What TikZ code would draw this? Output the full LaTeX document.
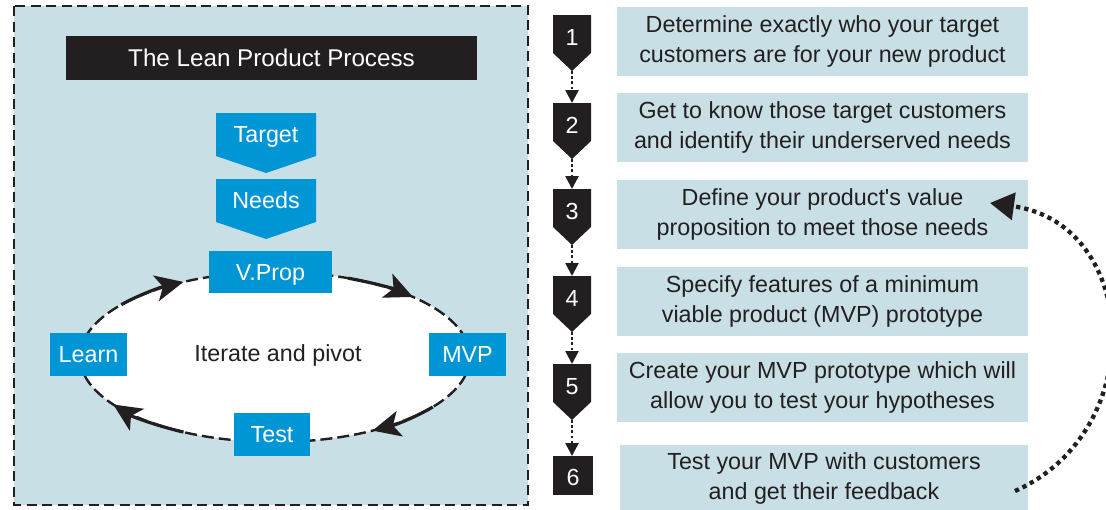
\documentclass[tikz,border=0pt]{standalone}
\usepackage{fontspec}
\setmainfont{Liberation Sans}
\usetikzlibrary{arrows.meta,shapes.geometric}
\definecolor{panelfill}{HTML}{C8DFE5}
\definecolor{leanblue}{HTML}{0096D6}
\definecolor{ink}{HTML}{231F20}

\tikzset{
  txt/.style={font=\fontsize{23.3}{30.5}\selectfont},
  panel/.style={fill=panelfill, draw=ink, line width=2.2pt, dash pattern=on 10pt off 5.5pt},
  titlebar/.style={font=\fontsize{24.2}{29}\selectfont, fill=ink, text=white, inner sep=0pt,
    minimum width=411pt, minimum height=44pt, text height=17.3pt, text depth=0pt},
  bluebox/.style={txt, fill=leanblue, text=white, inner sep=0pt,
    text height=16.7pt, text depth=0pt},
  stepbox/.style={txt, fill=panelfill, text=ink, align=center, inner sep=0pt,
    minimum width=411pt, minimum height=69pt},
  stepnum/.style={txt, text=white, inner sep=0pt, text height=16.7pt, text depth=0pt},
  stepflow/.style={ink, line width=2.6pt, dash pattern=on 2.6pt off 2.6pt,
    -{Triangle[length=13pt,width=13pt]}},
  loopline/.style={draw=ink, line width=2.4pt, dash pattern=on 12pt off 5pt},
  looparrow/.style={ink, line width=3.2pt, -{Stealth[length=28pt,width=26pt,inset=7pt]}},
  feedback/.style={ink, line width=4.3pt, dash pattern=on 4.3pt off 4pt,
    -{Triangle[length=24pt,width=27pt]}},
}

\begin{document}
\begin{tikzpicture}[x=1pt,y=-1pt]
\useasboundingbox (0,0) rectangle (1106,509);

% ---- left panel: the lean product process ----
\draw[panel] (14,6) rectangle (528,505);
\node[titlebar] (title) at (271.5,58) {The Lean Product Process};

% downward chevrons
\fill[leanblue] (216,113) -- (316,113) -- (316,156) -- (266,173) -- (216,156) -- cycle;
\node[bluebox] (target) at (266,134.5) {Target};
\fill[leanblue] (216,179) -- (316,179) -- (316,222) -- (266,239) -- (216,222) -- cycle;
\node[bluebox] (needs) at (266,200.5) {Needs};

% iteration loop
\node[loopline, fill=white, ellipse, inner sep=0pt,
      minimum width=390pt, minimum height=170pt] (loop) at (275,357) {};
\node[txt, text=ink, anchor=base] (pivot) at (278,361) {Iterate and pivot};

\draw[looparrow] ([shift={(-142:195 and 85)}]loop.center)
  arc[start angle=-142, end angle=-118, x radius=195, y radius=85];
\draw[looparrow] ([shift={(-68:195 and 85)}]loop.center)
  arc[start angle=-68, end angle=-45, x radius=195, y radius=85];
\draw[looparrow] ([shift={(36:195 and 85)}]loop.center)
  arc[start angle=36, end angle=60, x radius=195, y radius=85];
\draw[looparrow] ([shift={(-242:195 and 85)}]loop.center)
  arc[start angle=-242, end angle=-214, x radius=195, y radius=85];

\node[bluebox, minimum width=123pt, minimum height=42pt] (vprop) at (270.5,272) {V.Prop};
\node[bluebox, minimum width=77pt, minimum height=43pt] (learn) at (88.5,354.5) {Learn};
\node[bluebox, minimum width=77pt, minimum height=43pt] (mvp) at (467.5,354.5) {MVP};
\node[bluebox, minimum width=76pt, minimum height=43pt] (test) at (272,434.5) {Test};

% ---- right side: the six steps ----
\node[stepbox] (s1) at (822.5,41.5) {Determine exactly who your target\\customers are for your new product};
\node[stepbox] (s2) at (822.5,127.5) {Get to know those target customers\\and identify their underserved needs};
\node[stepbox] (s3) at (822.5,214.5) {Define your product\textquotesingle s value\\proposition to meet those needs};
\node[stepbox] (s4) at (822.5,301.5) {Specify features of a minimum\\viable product (MVP) prototype};
\node[stepbox] (s5) at (822.5,387.5) {Create your MVP prototype which will\\allow you to test your hypotheses};
\node[stepbox, minimum width=408pt, minimum height=67pt] (s6) at (824,478.5) {Test your MVP with customers\\and get their feedback};

% numbered markers
\foreach \k/\t in {1/15,2/103,3/189,4/276,5/364}{
  \fill[ink] (553,\t) -- ++(38,0) -- ++(0,38) -- ++(-19,18) -- ++(-19,-18) -- cycle;
  \coordinate (mtop\k) at (572,\t);
  \coordinate (mtip\k) at (572,\t+56);
  \node[stepnum] (n\k) at (572,\t+22) {\k};
}
\fill[ink] (553,456) rectangle (593,495);
\coordinate (mtop6) at (572,456);
\node[stepnum] (n6) at (573,477) {6};

\draw[stepflow] (mtip1) -- (mtop2);
\draw[stepflow] (mtip2) -- (mtop3);
\draw[stepflow] (mtip3) -- (mtop4);
\draw[stepflow] (mtip4) -- (mtop5);
\draw[stepflow] (mtip5) -- (mtop6);

% feedback loop from testing back to the value proposition
\coordinate (fbstart) at (1015,491);
\coordinate (fbtip) at (990,203);
\begin{scope}
  \clip (0,0) rectangle (1106,509);
  \draw[feedback] (fbstart) .. controls (1150,431) and (1140,224) .. (fbtip);
\end{scope}
\end{tikzpicture}
\end{document}
